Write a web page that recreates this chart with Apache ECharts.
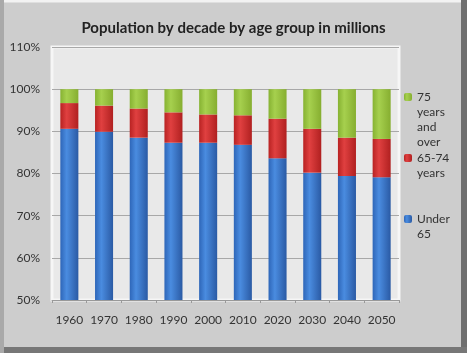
<!DOCTYPE html>
<html><head><meta charset="utf-8">
<script src="https://cdn.jsdelivr.net/npm/echarts@6/dist/echarts.min.js"></script>
<style>html,body{margin:0;padding:0;background:#fff}#c{width:467px;height:353px}</style>
</head><body><div id="c"></div>
<script>
var categories = ['1960','1970','1980','1990','2000','2010','2020','2030','2040','2050'];
var under65 = [90.6, 89.9, 88.5, 87.3, 87.3, 86.8, 83.6, 80.2, 79.4, 79.1];
var age6574 = [6.1, 6.2, 6.9, 7.2, 6.7, 7.0, 9.4, 10.4, 9.1, 9.1];
var age75plus = [3.3, 3.9, 4.6, 5.5, 6.0, 6.2, 7.0, 9.4, 11.5, 11.8];
var seriesNames = ['Under 65', '65-74 years', '75 years and over'];
var legendLabels = ['Under\n65', '65-74\nyears', '75\nyears\nand\nover'];
var yTicks = [50, 60, 70, 80, 90, 100, 110];

var FONT = 'Lato';
function grad(c0, c1, c2) {
  return new echarts.graphic.LinearGradient(0, 0, 1, 0, [
    {offset: 0, color: c0}, {offset: 0.35, color: c1}, {offset: 1, color: c2}]);
}
var colors = [grad('#2e66b8', '#4a8ce0', '#2a5aa4'), grad('#b82222', '#e04040', '#b02020'), grad('#86b232', '#a6d04e', '#86ae30')];
var LH = 15;
function legendFor(i, iconY) {
  var lines = legendLabels[i].split('\n');
  var n = lines.length;
  var pad = new Array(n).join('\n');
  var txt = pad + legendLabels[i];
  return {
    data: [seriesNames[i]], left: 404, top: iconY - (2 * n - 1) * LH / 2, orient: 'vertical',
    itemWidth: 8, itemHeight: 8, itemGap: 0, padding: 0,
    formatter: function () { return txt; },
    textStyle: {fontFamily: FONT, fontSize: 12, color: '#333', lineHeight: LH},
    selectedMode: false
  };
}
var chart = echarts.init(document.getElementById('c'));
chart.setOption({
  animation: false,
  backgroundColor: '#cdcdcd',
  graphic: [
    {type: 'rect', shape: {x: 1, y: 1, width: 463, height: 349}, style: {fill: 'none', stroke: '#f2f2f2', lineWidth: 3}, z: -10},
    {type: 'rect', shape: {x: 461, y: 0, width: 6, height: 353}, style: {fill: '#6f6f6f'}, z: -9},
    {type: 'rect', shape: {x: 0, y: 347, width: 467, height: 6}, style: {fill: '#777'}, z: -9},
    {type: 'rect', shape: {x: 0, y: 0, width: 4, height: 353}, style: {fill: '#a9a9a9'}, z: -9}
  ],
  title: {
    text: 'Population by decade by age group in millions', left: 'center', top: 16,
    textStyle: {fontFamily: FONT, fontSize: 15, fontWeight: 'bold', color: '#222'}
  },
  legend: [legendFor(2, 97), legendFor(1, 158), legendFor(0, 219)],
  grid: {left: 52, right: 68, top: 47, bottom: 53, show: true, backgroundColor: '#e9e9e9', borderColor: '#f6f6f6', borderWidth: 3},
  xAxis: {
    type: 'category', data: categories,
    axisLine: {lineStyle: {color: '#999'}},
    axisTick: {show: true, length: 3, lineStyle: {color: '#999'}},
    axisLabel: {fontFamily: FONT, fontSize: 12, color: '#333', margin: 14, interval: 0}
  },
  yAxis: {
    type: 'value', min: 50, max: 110, interval: 10,
    axisLine: {show: false}, axisTick: {show: false},
    splitLine: {lineStyle: {color: '#a8a8a8'}},
    axisLabel: {fontFamily: FONT, fontSize: 12, color: '#333', margin: 12,
      formatter: function (v) { return yTicks.indexOf(v) >= 0 ? v + '%' : ''; }}
  },
  series: [
    {name: seriesNames[0], type: 'bar', stack: 's', data: under65, barWidth: '52%', itemStyle: {color: colors[0]}},
    {name: seriesNames[1], type: 'bar', stack: 's', data: age6574, itemStyle: {color: colors[1]}},
    {name: seriesNames[2], type: 'bar', stack: 's', data: age75plus, itemStyle: {color: colors[2]}}
  ]
});
</script></body></html>
